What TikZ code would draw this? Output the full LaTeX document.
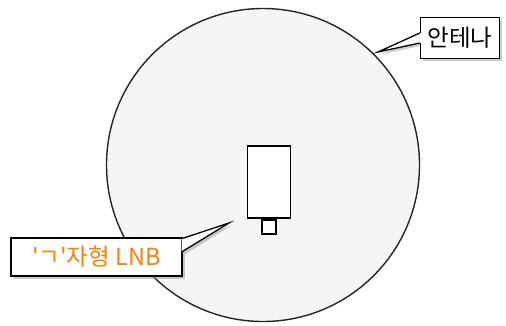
\documentclass[tikz,border=0pt]{standalone}
\usepackage{fontspec}
\newfontfamily\kor{Noto Sans CJK KR}
\usetikzlibrary{shadows,calc}
\begin{document}
\begin{tikzpicture}
  [x=1pt,y=-1pt,
   tag/.style={rectangle,draw,fill=white,line width=1.3pt,
     font=\kor\fontsize{23.5}{24}\selectfont,inner sep=0pt},
   tag shadow/.style={drop shadow={shadow xshift=2.5pt,shadow yshift=-2.5pt,fill=black!40}},
   part/.style={draw,fill=white,line width=1.7pt,inner sep=0pt}]
  \useasboundingbox (0,0) rectangle (506,325);
  \node (dish)[circle,draw=black!85,fill=black!4,line width=1.4pt,minimum size=313pt] at (263,165) {};
  \node (lnb)[part,minimum width=43pt,minimum height=72pt] at (269,182) {};
  \node (feed)[part,minimum width=14pt,minimum height=14pt,anchor=north] at (lnb.south) {};
  \coordinate (tip1) at (378,52);
  \coordinate (tip2) at (229,223);
  % pointer shadows
  \fill[white,tag shadow] (420,33) -- (tip1) -- (420,43) -- cycle;
  \fill[white,tag shadow] (182,239) -- (tip2) -- (182,252) -- cycle;
  \node (tag1)[tag,tag shadow,minimum width=79pt,minimum height=41pt] at (460,38) {안테나};
  \node (tag2)[tag,tag shadow,text=orange,minimum width=171pt,minimum height=38pt] at (96.5,257) {'ㄱ'자형 LNB};
  % pointers
  \fill[white] ($(tag1.west)+(1pt,5pt)$) -- (tip1) -- ($(tag1.west)+(1pt,-5pt)$) -- cycle;
  \draw[line width=1.3pt,line join=miter] ($(tag1.west)+(0,5pt)$) -- (tip1) -- ($(tag1.west)+(0,-5pt)$);
  \fill[white] ($(tag2.north east)+(-1pt,-1.5pt)$) -- (tip2) -- ($(tag2.north east)+(-1pt,-14pt)$) -- cycle;
  \draw[line width=1.3pt] ($(tag2.north east)+(0,-1pt)$) -- (tip2) -- ($(tag2.north east)+(0,-14pt)$);
\end{tikzpicture}
\end{document}
